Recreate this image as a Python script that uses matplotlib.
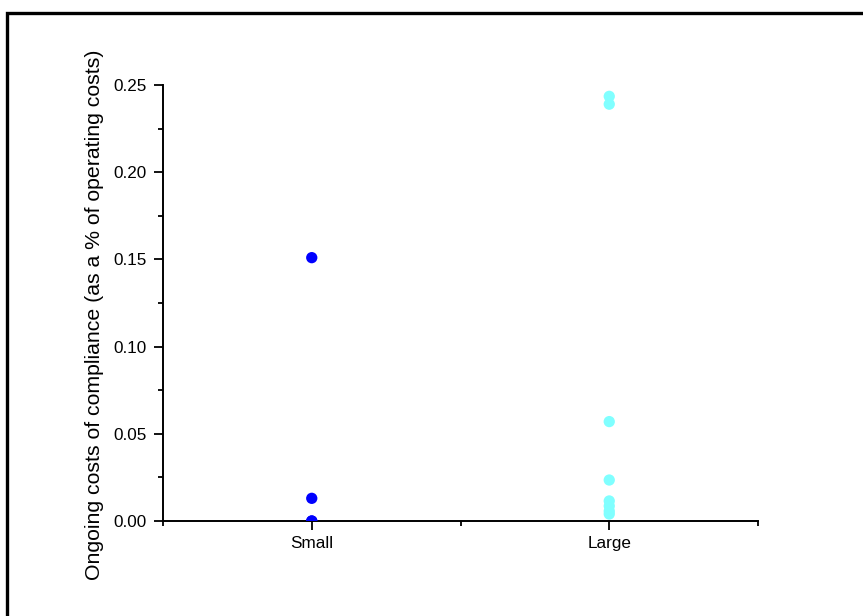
import numpy as np
import matplotlib
matplotlib.use('Agg')
import matplotlib.pyplot as plt
from matplotlib.patches import Rectangle
from matplotlib.ticker import MultipleLocator, FixedLocator

plt.rcParams['font.family'] = ['Liberation Sans', 'DejaVu Sans']

# Ongoing costs of compliance per firm, by firm size
categories = ['Small', 'Large']
small_costs = [0.151, 0.013, 0.0, 0.0]
large_costs = [0.2435, 0.239, 0.057, 0.0235, 0.0115, 0.0086, 0.0057, 0.004]
y_ticks = [0.00, 0.05, 0.10, 0.15, 0.20, 0.25]

fig = plt.figure(figsize=(8.63, 6.16), dpi=100)
ax = fig.add_axes([163 / 863, 1 - 521 / 616, (758 - 163) / 863, (521 - 85) / 616])

ax.scatter(np.full(len(small_costs), 1), small_costs, s=66, color='#0000ff',
           edgecolors='none', zorder=3)
ax.scatter(np.full(len(large_costs), 2), large_costs, s=66, color='#80ffff',
           edgecolors='none', zorder=3)

ax.set_xlim(0.5, 2.5)
ax.set_ylim(0, 0.25)
ax.set_xticks([1, 2])
ax.set_xticklabels(categories)
ax.xaxis.set_minor_locator(FixedLocator([0.5, 1.5, 2.5]))
ax.set_yticks(y_ticks)
ax.set_yticklabels([f'{v:.2f}' for v in y_ticks])
ax.yaxis.set_minor_locator(MultipleLocator(0.025))

ax.spines['top'].set_visible(False)
ax.spines['right'].set_visible(False)
for sp in ('left', 'bottom'):
    ax.spines[sp].set_linewidth(1.4)

ax.tick_params(axis='both', which='major', direction='out', length=6.5,
               width=1.3, labelsize=12.3, colors='black')
ax.tick_params(axis='both', which='minor', direction='out', length=3.5,
               width=1.3)
ax.tick_params(axis='y', which='major', pad=5)
ax.tick_params(axis='x', which='major', pad=4)

ax.set_ylabel('Ongoing costs of compliance (as a % of operating costs)',
              fontsize=15.3)
ax.yaxis.set_label_coords(-0.099, 0.472)

# outer frame, only top and left edges fall inside the image
fig.patches.append(Rectangle((7 / 863, -0.05), 1.0, 1 - 13 / 616 + 0.05,
                             transform=fig.transFigure, fill=False,
                             edgecolor='black', linewidth=2.4))

fig.savefig('out.png', dpi=100)
